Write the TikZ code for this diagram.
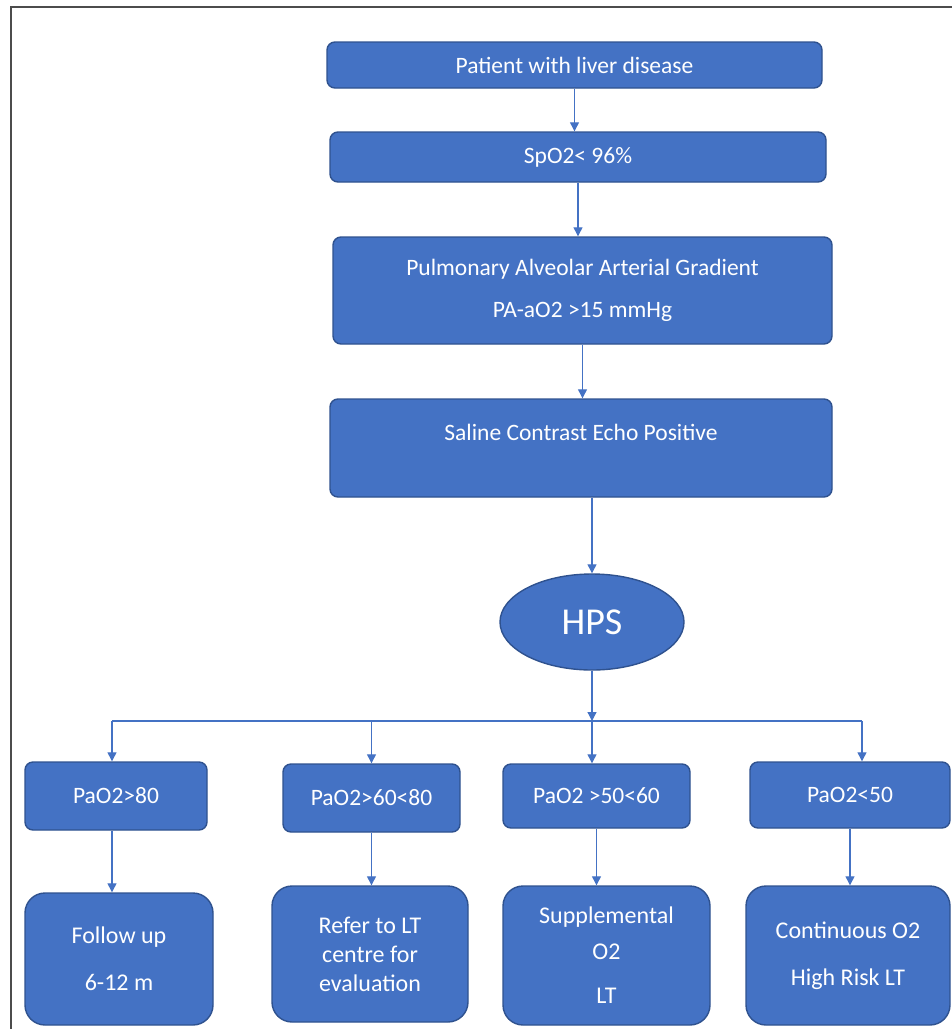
\documentclass[tikz,border=0pt]{standalone}
\usepackage{fontspec}
\setmainfont{Carlito}
\usetikzlibrary{arrows.meta,shapes.geometric}

\definecolor{boxblue}{HTML}{4472C4}
\definecolor{boxedge}{HTML}{2F528F}

\tikzset{
  stepbox/.style={draw=boxedge, line width=1.4pt, fill=boxblue, text=white,
    rounded corners=8pt, inner sep=0pt, align=center,
    font=\fontsize{23.5}{28}\selectfont},
  endbox/.style={stepbox, rounded corners=20pt, font=\fontsize{24}{29}\selectfont},
  hpsnode/.style={ellipse, draw=boxedge, line width=1.4pt, fill=boxblue, text=white,
    inner sep=0pt, font=\fontsize{38}{44}\selectfont},
  arr/.style={draw=boxblue, line width=1.2pt, -{Triangle[width=9pt,length=9pt]}},
  bus/.style={draw=boxblue, line width=1.2pt}
}

\begin{document}
\begin{tikzpicture}[x=1pt,y=-1pt] % 1 unit = 1 pixel, y downwards

% --------- PARAMETERS ----------
\def\ybus{721}    % horizontal distribution line
\def\xleft{112}   % first branch
\def\xright{862}  % last branch
% --------------------------------

\useasboundingbox (0,0) rectangle (952,1029);

% Frame (top and left edges)
\draw[line width=2pt, black!70] (952,7) -- (11,7) -- (11,1029);

% Main column
\node[stepbox, minimum width=495, minimum height=46] (liver) at (574.5,65) {Patient with liver disease};
\node[stepbox, minimum width=496, minimum height=50] (spo) at (578,157) {SpO2< 96\%};
\node[stepbox, minimum width=499, minimum height=107] (grad) at (582.5,290.5)
  {Pulmonary Alveolar Arterial Gradient\\[14pt]PA-aO2 >15 mmHg};
\node[stepbox, minimum width=502, minimum height=98] (echo) at (581,448)
  {Saline Contrast Echo Positive\\[-6pt]\strut};
\node[hpsnode, minimum width=184, minimum height=96] (hps) at (592,622) {HPS};

% PaO2 classes
\node[stepbox, minimum width=182, minimum height=68] (pa80) at (116,796) {PaO2>80};
\node[stepbox, minimum width=177, minimum height=68] (pa60) at (371.5,798) {PaO2>60<80};
\node[stepbox, minimum width=187, minimum height=64] (pa50) at (596.5,796) {PaO2 >50<60};
\node[stepbox, minimum width=200, minimum height=66] (pa40) at (850,795) {PaO2<50};

% Management
\node[endbox, minimum width=188, minimum height=132] (fup) at (119,959) {Follow up\\[18pt]6-12 m};
\node[endbox, minimum width=196, minimum height=136] (refer) at (370,954) {Refer to LT\\centre for\\evaluation};
\node[endbox, minimum width=207, minimum height=139] (suppl) at (606.5,955.5) {Supplemental\\[7pt]O2\\[15pt]LT};
\node[endbox, minimum width=204, minimum height=139] (cont) at (848,955.5) {Continuous O2\\[18pt]High Risk LT};

% Arrows down the column
\draw[arr] (liver.south) -- (liver.south |- spo.north);
\draw[arr] (spo.south) -- (spo.south |- grad.north);
\draw[arr] (grad.south) -- (grad.south |- echo.north);
\draw[arr] (echo.south -| hps) -- (hps.north);

% Distribution line
\coordinate (busM) at (592,\ybus);
\coordinate (busL) at (\xleft,\ybus);
\coordinate (busR) at (\xright,\ybus);
\draw[arr] (hps.south) -- (busM);
\draw[bus] (busL) -- (busR);
\draw[arr] (busL) -- (busL |- pa80.north);
\draw[arr] (busM -| pa60) -- (pa60.north);
\draw[arr] (busM) -- (busM |- pa50.north);
\draw[arr] (busR) -- (busR |- pa40.north);

% Arrows to management
\draw[arr] (pa80.south -| busL) -- (busL |- fup.north);
\draw[arr] (pa60.south) -- (pa60.south |- refer.north);
\draw[arr] (pa50.south) -- (pa50.south |- suppl.north);
\draw[arr] (pa40.south) -- (pa40.south |- cont.north);

\end{tikzpicture}
\end{document}
